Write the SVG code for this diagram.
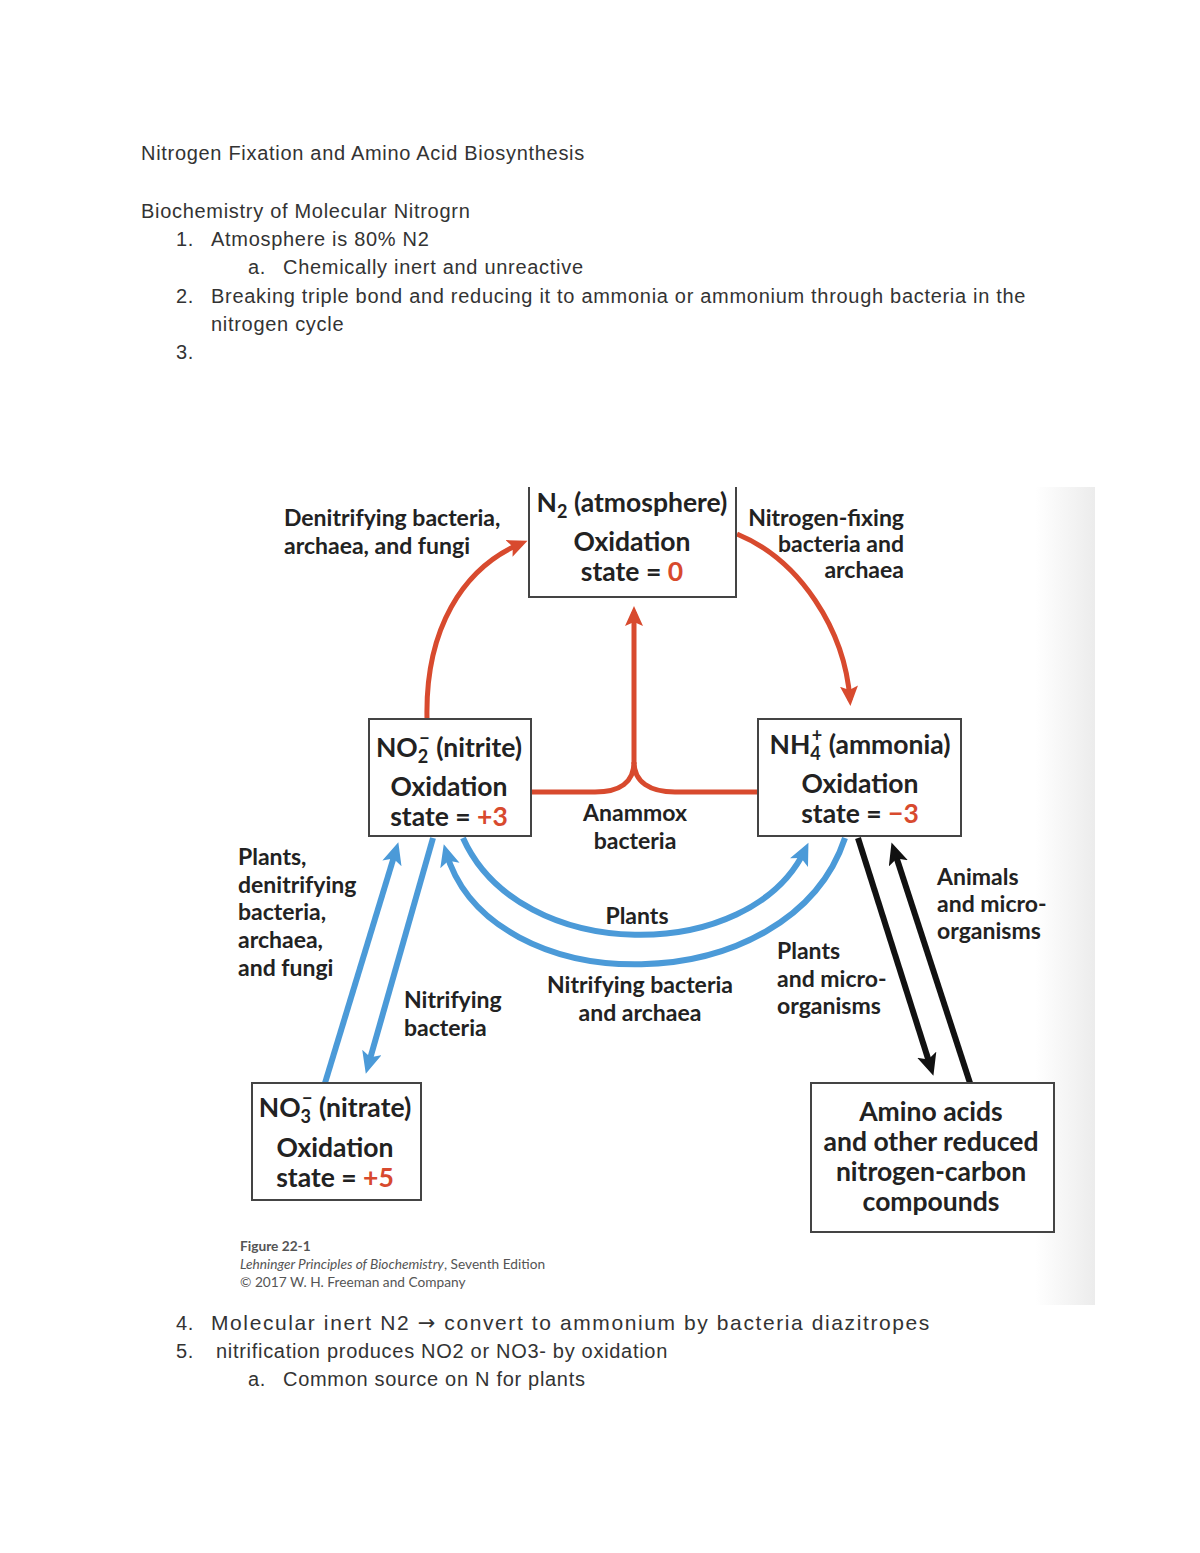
<svg xmlns="http://www.w3.org/2000/svg" width="1200" height="1553" viewBox="0 0 1200 1553">
<defs>
<style>
.doc{font-family:"Liberation Sans",Arial,sans-serif;font-size:20px;fill:#333;letter-spacing:0.7px}
.doc4{font-family:"Liberation Sans",Arial,sans-serif;font-size:21px;fill:#333;letter-spacing:1.6px}
.bt{font-family:Lato,"Open Sans",sans-serif;font-weight:700;font-size:26.5px;fill:#222}
.lb{font-family:Lato,"Open Sans",sans-serif;font-weight:700;font-size:23px;fill:#222}
.sub{font-size:18px}
.red{fill:#d84a2e}
.box{fill:#fff;stroke:#444;stroke-width:2}
.r{fill:none;stroke:#d84a2e;stroke-width:5}
.b{fill:none;stroke:#4b9ad8;stroke-width:6}
.k{fill:none;stroke:#111;stroke-width:6}
.cap{font-family:Lato,"Open Sans",sans-serif;font-size:13.7px;fill:#555}
</style>
<marker id="mr" markerUnits="userSpaceOnUse" markerWidth="24" markerHeight="20" refX="14" refY="9" orient="auto"><path d="M0,0 L20,9 L0,18 L4,9 z" fill="#d84a2e"/></marker>
<marker id="mb" markerUnits="userSpaceOnUse" markerWidth="24" markerHeight="22" refX="14" refY="10" orient="auto"><path d="M0,0 L22,10 L0,20 L5,10 z" fill="#4b9ad8"/></marker>
<marker id="mk" markerUnits="userSpaceOnUse" markerWidth="24" markerHeight="22" refX="14" refY="10" orient="auto"><path d="M0,0 L22,10 L0,20 L5,10 z" fill="#111"/></marker>
<linearGradient id="edge" x1="0" y1="0" x2="1" y2="0"><stop offset="0" stop-color="#fff"/><stop offset="1" stop-color="#ececec"/></linearGradient>
</defs>
<rect width="1200" height="1553" fill="#fff"/>
<rect x="1035" y="487" width="60" height="818" fill="url(#edge)"/>

<g id="doc-top">
<text class="doc" x="141" y="160">Nitrogen Fixation and Amino Acid Biosynthesis</text>
<text class="doc" x="141" y="218">Biochemistry of Molecular Nitrogrn</text>
<text class="doc" x="176" y="246">1.</text><text class="doc" x="211" y="246">Atmosphere is 80% N2</text>
<text class="doc" x="248" y="274">a.</text><text class="doc" x="283" y="274">Chemically inert and unreactive</text>
<text class="doc" x="176" y="303">2.</text><text class="doc" x="211" y="303">Breaking triple bond and reducing it to ammonia or ammonium through bacteria in the</text>
<text class="doc" x="211" y="331">nitrogen cycle</text>
<text class="doc" x="176" y="359">3.</text>
</g>

<g id="connectors">
<path class="r" d="M427,719 C425,630 462,568 522,543" marker-end="url(#mr)"/>
<path class="r" d="M737,534 C800,560 845,630 850,700" marker-end="url(#mr)"/>
<path class="r" d="M532,792 L595,792 C620,792 634,782 634,762 M758,792 L675,792 C650,792 634,782 634,762"/>
<path class="r" d="M634,764 L634,612" marker-end="url(#mr)"/>
<path class="b" d="M325,1083 L396,850" marker-end="url(#mb)"/>
<path class="b" d="M433,838 L368,1066" marker-end="url(#mb)"/>
<path class="b" d="M463,838 C520,965 750,965 805,850" marker-end="url(#mb)"/>
<path class="b" d="M845,838 C790,1004 490,1004 446,852" marker-end="url(#mb)"/>
<path class="k" d="M858,838 L931,1068" marker-end="url(#mk)"/>
<path class="k" d="M970,1083 L894,850" marker-end="url(#mk)"/>
</g>

<g id="n2">
<path d="M529,487 L529,597 L736,597 L736,487" fill="#fff" stroke="#444" stroke-width="2"/>
<text class="bt" x="632" y="512" text-anchor="middle">N<tspan class="sub" dy="6">2</tspan><tspan dy="-6"> (atmosphere)</tspan></text>
<text class="bt" x="632" y="551" text-anchor="middle">Oxidation</text>
<text class="bt" x="632" y="581" text-anchor="middle">state = <tspan class="red">0</tspan></text>
</g>

<g id="no2">
<rect class="box" x="369" y="719" width="162" height="117"/>
<text class="bt" x="449" y="757" text-anchor="middle">NO<tspan class="sub" dy="6">2</tspan><tspan class="sub" dx="-9" dy="-18">−</tspan><tspan dy="12"> (nitrite)</tspan></text>
<text class="bt" x="449" y="796" text-anchor="middle">Oxidation</text>
<text class="bt" x="449" y="826" text-anchor="middle">state = <tspan class="red">+3</tspan></text>
</g>

<g id="nh4">
<rect class="box" x="758" y="719" width="203" height="117"/>
<text class="bt" x="860" y="754" text-anchor="middle">NH<tspan class="sub" dy="6">4</tspan><tspan class="sub" dx="-9" dy="-18">+</tspan><tspan dy="12"> (ammonia)</tspan></text>
<text class="bt" x="860" y="793" text-anchor="middle">Oxidation</text>
<text class="bt" x="860" y="823" text-anchor="middle">state = <tspan class="red">−3</tspan></text>
</g>

<g id="no3">
<rect class="box" x="252" y="1083" width="169" height="117"/>
<text class="bt" x="335" y="1117" text-anchor="middle">NO<tspan class="sub" dy="6">3</tspan><tspan class="sub" dx="-9" dy="-18">−</tspan><tspan dy="12"> (nitrate)</tspan></text>
<text class="bt" x="335" y="1157" text-anchor="middle">Oxidation</text>
<text class="bt" x="335" y="1187" text-anchor="middle">state = <tspan class="red">+5</tspan></text>
</g>

<g id="amino">
<rect class="box" x="811" y="1083" width="243" height="149"/>
<text class="bt" x="931" y="1121" text-anchor="middle">Amino acids</text>
<text class="bt" x="931" y="1151" text-anchor="middle">and other reduced</text>
<text class="bt" x="931" y="1181" text-anchor="middle">nitrogen-carbon</text>
<text class="bt" x="931" y="1211" text-anchor="middle">compounds</text>
</g>

<g id="labels">
<text class="lb" x="284" y="526">Denitrifying bacteria,</text>
<text class="lb" x="284" y="554">archaea, and fungi</text>
<text class="lb" x="904" y="526" text-anchor="end">Nitrogen-fixing</text>
<text class="lb" x="904" y="552" text-anchor="end">bacteria and</text>
<text class="lb" x="904" y="578" text-anchor="end">archaea</text>
<text class="lb" x="635" y="821" text-anchor="middle">Anammox</text>
<text class="lb" x="635" y="849" text-anchor="middle">bacteria</text>
<text class="lb" x="238" y="865">Plants,</text>
<text class="lb" x="238" y="893">denitrifying</text>
<text class="lb" x="238" y="920">bacteria,</text>
<text class="lb" x="238" y="948">archaea,</text>
<text class="lb" x="238" y="976">and fungi</text>
<text class="lb" x="404" y="1008">Nitrifying</text>
<text class="lb" x="404" y="1036">bacteria</text>
<text class="lb" x="637" y="924" text-anchor="middle">Plants</text>
<text class="lb" x="640" y="993" text-anchor="middle">Nitrifying bacteria</text>
<text class="lb" x="640" y="1021" text-anchor="middle">and archaea</text>
<text class="lb" x="777" y="959">Plants</text>
<text class="lb" x="777" y="987">and micro-</text>
<text class="lb" x="777" y="1014">organisms</text>
<text class="lb" x="937" y="885">Animals</text>
<text class="lb" x="937" y="912">and micro-</text>
<text class="lb" x="937" y="939">organisms</text>
</g>

<g id="caption">
<text class="cap" x="240" y="1251" font-weight="700" fill="#333">Figure 22-1</text>
<text class="cap" x="240" y="1269"><tspan font-style="italic">Lehninger Principles of Biochemistry</tspan>, Seventh Edition</text>
<text class="cap" x="240" y="1287">© 2017 W. H. Freeman and Company</text>
</g>

<g id="doc-bottom">
<text class="doc" x="176" y="1330">4.</text><text class="doc4" x="211" y="1330">Molecular inert N2 <tspan font-family="'DejaVu Sans',sans-serif">→</tspan> convert to ammonium by bacteria diazitropes</text>
<text class="doc" x="176" y="1358">5.</text><text class="doc" x="216" y="1358">nitrification produces NO2 or NO3- by oxidation</text>
<text class="doc" x="248" y="1386">a.</text><text class="doc" x="283" y="1386">Common source on N for plants</text>
</g>
</svg>
